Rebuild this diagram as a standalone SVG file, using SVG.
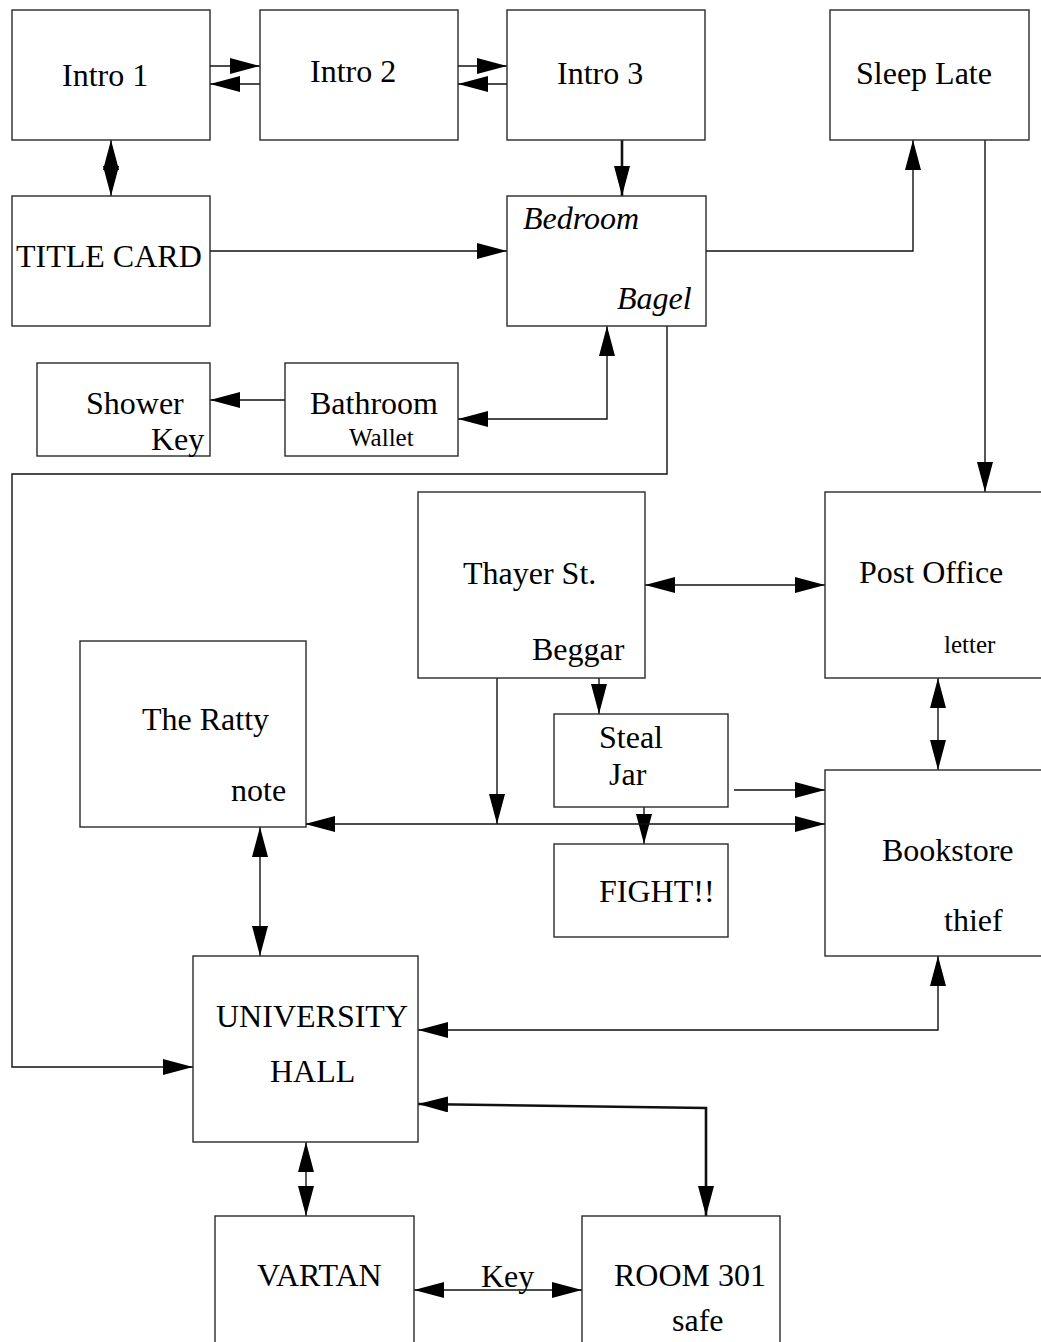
<svg xmlns="http://www.w3.org/2000/svg" width="1041" height="1342" viewBox="0 0 1041 1342">
<style>
.box{fill:#fff;stroke:#2a2a2a;stroke-width:1.4}
.t{font-family:"Liberation Serif","Times New Roman",serif;font-size:32px;fill:#000}
.s{font-size:25px}
.i{font-style:italic}
.c{fill:none;stroke:#111;stroke-width:1.4}
.k{stroke-width:2.6}
.a{marker-end:url(#ah)}
.b{marker-start:url(#ah);marker-end:url(#ah)}
</style>
<defs>
<marker id="ah" viewBox="0 0 30 16" refX="30" refY="8" markerWidth="30" markerHeight="16" markerUnits="userSpaceOnUse" orient="auto-start-reverse"><path d="M0,0 L30,8 L0,16 z" fill="#000"/></marker>
</defs>
<rect width="1041" height="1342" fill="#fff"/>
<g id="connectors">
<path class="c a" d="M210,66 H260"/>
<path class="c a" d="M260,84 H210"/>
<path class="c a" d="M458,66 H507"/>
<path class="c a" d="M507,84 H458"/>
<path class="c b" d="M111,140 V196"/>
<path class="c k a" d="M622,140 V196"/>
<path class="c a" d="M210,251 H507"/>
<path class="c a" d="M706,251 H913 V140"/>
<path class="c a" d="M985,140 V492"/>
<path class="c a" d="M285,400 H210"/>
<path class="c b" d="M607,326 V419 H458"/>
<path class="c a" d="M667,326 V474 H12 V1067 H193"/>
<path class="c b" d="M645,585 H825"/>
<path class="c a" d="M497,678 V824"/>
<path class="c a" d="M599,678 V714"/>
<path class="c a" d="M644,807 V844"/>
<path class="c a" d="M734,790 H825"/>
<path class="c b" d="M305,824 H825"/>
<path class="c b" d="M938,678 V770"/>
<path class="c b" d="M260,827 V956"/>
<path class="c b" d="M418,1030 H938 V956"/>
<path class="c k b" d="M418,1104 L706,1108 V1216"/>
<path class="c b" d="M306,1142 V1216"/>
<path class="c b" d="M414,1290 H582"/>
</g>
<g id="intro1"><rect class="box" x="12" y="10" width="198" height="130"/><text class="t" x="62" y="86">Intro 1</text></g>
<g id="intro2"><rect class="box" x="260" y="10" width="198" height="130"/><text class="t" x="310" y="82">Intro 2</text></g>
<g id="intro3"><rect class="box" x="507" y="10" width="198" height="130"/><text class="t" x="557" y="84">Intro 3</text></g>
<g id="sleep-late"><rect class="box" x="830" y="10" width="199" height="130"/><text class="t" x="856" y="84">Sleep Late</text></g>
<g id="title-card"><rect class="box" x="12" y="196" width="198" height="130"/><text class="t" x="16" y="267">TITLE CARD</text></g>
<g id="bedroom"><rect class="box" x="507" y="196" width="199" height="130"/><text class="t i" x="523" y="229">Bedroom</text><text class="t i" x="617" y="309">Bagel</text></g>
<g id="shower"><rect class="box" x="37" y="363" width="173" height="93"/><text class="t" x="86" y="414">Shower</text><text class="t" x="151" y="450">Key</text></g>
<g id="bathroom"><rect class="box" x="285" y="363" width="173" height="93"/><text class="t" x="310" y="414">Bathroom</text><text class="t s" x="349" y="446">Wallet</text></g>
<g id="thayer"><rect class="box" x="418" y="492" width="227" height="186"/><text class="t" x="463" y="584">Thayer St.</text><text class="t" x="532" y="660">Beggar</text></g>
<g id="post-office"><rect class="box" x="825" y="492" width="230" height="186"/><text class="t" x="859" y="583">Post Office</text><text class="t s" x="944" y="653">letter</text></g>
<g id="ratty"><rect class="box" x="80" y="641" width="226" height="186"/><text class="t" x="142" y="730">The Ratty</text><text class="t" x="231" y="801">note</text></g>
<g id="steal-jar"><rect class="box" x="554" y="714" width="174" height="93"/><text class="t" x="599" y="748">Steal</text><text class="t" x="609" y="785">Jar</text></g>
<g id="fight"><rect class="box" x="554" y="844" width="174" height="93"/><text class="t" x="599" y="902">FIGHT!!</text></g>
<g id="bookstore"><rect class="box" x="825" y="770" width="230" height="186"/><text class="t" x="882" y="861">Bookstore</text><text class="t" x="944" y="931">thief</text></g>
<g id="university-hall"><rect class="box" x="193" y="956" width="225" height="186"/><text class="t" x="216" y="1027">UNIVERSITY</text><text class="t" x="270" y="1082">HALL</text></g>
<g id="vartan"><rect class="box" x="215" y="1216" width="199" height="140"/><text class="t" x="257" y="1286">VARTAN</text></g>
<g id="room301"><rect class="box" x="582" y="1216" width="198" height="140"/><text class="t" x="614" y="1286">ROOM 301</text><text class="t" x="672" y="1331">safe</text></g>
<text class="t" x="481" y="1287">Key</text>
</svg>
